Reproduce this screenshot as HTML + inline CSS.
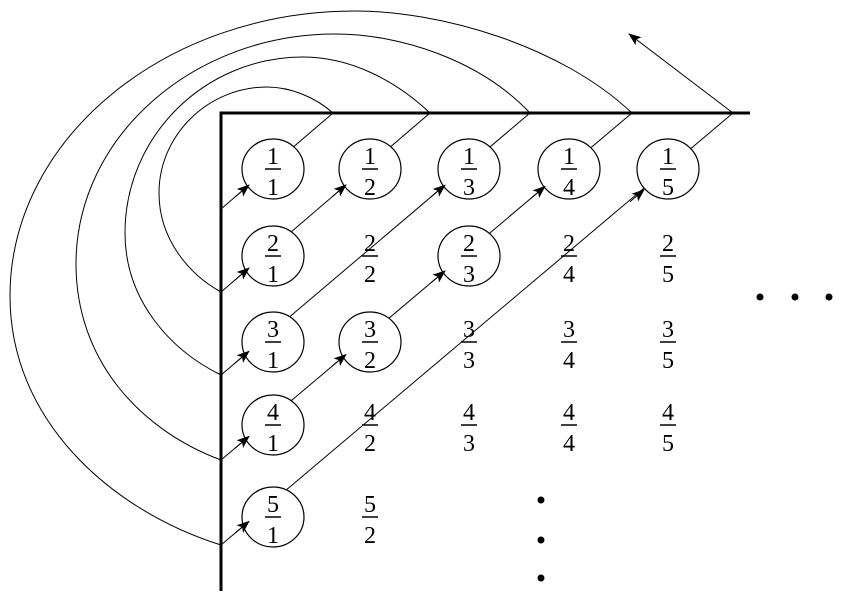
<!DOCTYPE html>
<html><head><meta charset="utf-8"><style>
html,body{margin:0;padding:0;background:#fff;}
svg{display:block;}
text{font-family:"Liberation Serif",serif;font-size:24px;fill:#000;text-anchor:middle;}
</style></head><body>
<svg width="841" height="596" viewBox="0 0 841 596" xmlns="http://www.w3.org/2000/svg">
<defs>
<marker id="ah" markerWidth="14" markerHeight="10" refX="12" refY="5" orient="auto" markerUnits="userSpaceOnUse">
<path d="M0,0 L13,5 L0,10 L3,5 Z" fill="#000"/>
</marker>
</defs>
<g fill="none" stroke="#000" stroke-width="1">
<path d="M333,113 C315,97 290,87 267,87 C208,87 159,135 159,193 C159,240 190,275 221,292"/>
<path d="M430,113 C395,80 350,57 303,57 C205,57 125,136 125,233 C125,300 170,350 221,375"/>
<path d="M530,113 C480,60 400,34 335,34 C193,34 76,137 76,264 C76,360 140,430 221,460"/>
<path d="M632,113 C560,45 440,11 355,11 C165,11 10,139 10,296 C10,420 110,510 221,545"/>
<line x1="221" y1="209" x2="333" y2="113"/>
<line x1="221" y1="292" x2="430" y2="113"/>
<line x1="221" y1="375" x2="530" y2="113"/>
<line x1="221" y1="460" x2="632" y2="113"/>
<line x1="221" y1="545" x2="733" y2="113"/>
<line x1="733" y1="113" x2="629" y2="34" marker-end="url(#ah)"/>
</g>
<path d="M221,591 L221,113 L750,113" fill="none" stroke="#000" stroke-width="3"/>
<g fill="#fff" stroke="#000" stroke-width="1.2">
<ellipse cx="273" cy="169" rx="31" ry="30"/>
<ellipse cx="370" cy="169" rx="31" ry="30"/>
<ellipse cx="469" cy="169" rx="31" ry="30"/>
<ellipse cx="569" cy="169" rx="31" ry="30"/>
<ellipse cx="668" cy="169" rx="31" ry="30"/>
<ellipse cx="273" cy="256" rx="31" ry="30"/>
<ellipse cx="469" cy="256" rx="31" ry="30"/>
<ellipse cx="273" cy="342" rx="31" ry="30"/>
<ellipse cx="370" cy="342" rx="31" ry="30"/>
<ellipse cx="273" cy="425" rx="31" ry="30"/>
<ellipse cx="273" cy="517" rx="31" ry="30"/>
</g>
<g stroke="#000" stroke-width="1" marker-end="url(#ah)">
<line x1="235" y1="197" x2="249" y2="185"/>
<line x1="235" y1="280" x2="249" y2="268"/>
<line x1="332" y1="196.9" x2="346" y2="184.9"/>
<line x1="235" y1="363.1" x2="249" y2="351.3"/>
<line x1="431" y1="196.9" x2="445" y2="185.1"/>
<line x1="235" y1="448.2" x2="249" y2="436.4"/>
<line x1="332" y1="366.3" x2="346" y2="354.5"/>
<line x1="431" y1="282.7" x2="445" y2="270.9"/>
<line x1="531" y1="198.3" x2="545" y2="186.4"/>
<line x1="235" y1="533.2" x2="249" y2="521.4"/>
<line x1="630" y1="201.7" x2="644" y2="189.8"/>
</g>
<g stroke="#000" stroke-width="1.5">
<line x1="265" y1="169" x2="281" y2="169"/><line x1="362" y1="169" x2="378" y2="169"/><line x1="461" y1="169" x2="477" y2="169"/><line x1="561" y1="169" x2="577" y2="169"/><line x1="660" y1="169" x2="676" y2="169"/>
<line x1="265" y1="256" x2="281" y2="256"/><line x1="362" y1="256" x2="378" y2="256"/><line x1="461" y1="256" x2="477" y2="256"/><line x1="561" y1="256" x2="577" y2="256"/><line x1="660" y1="256" x2="676" y2="256"/>
<line x1="265" y1="342" x2="281" y2="342"/><line x1="362" y1="342" x2="378" y2="342"/><line x1="461" y1="342" x2="477" y2="342"/><line x1="561" y1="342" x2="577" y2="342"/><line x1="660" y1="342" x2="676" y2="342"/>
<line x1="265" y1="425" x2="281" y2="425"/><line x1="362" y1="425" x2="378" y2="425"/><line x1="461" y1="425" x2="477" y2="425"/><line x1="561" y1="425" x2="577" y2="425"/><line x1="660" y1="425" x2="676" y2="425"/>
<line x1="265" y1="517" x2="281" y2="517"/><line x1="362" y1="517" x2="378" y2="517"/>
</g>
<g>
<text x="273" y="164">1</text><text x="273" y="195">1</text>
<text x="370" y="164">1</text><text x="370" y="195">2</text>
<text x="469" y="164">1</text><text x="469" y="195">3</text>
<text x="569" y="164">1</text><text x="569" y="195">4</text>
<text x="668" y="164">1</text><text x="668" y="195">5</text>
<text x="273" y="251">2</text><text x="273" y="282">1</text>
<text x="370" y="251">2</text><text x="370" y="282">2</text>
<text x="469" y="251">2</text><text x="469" y="282">3</text>
<text x="569" y="251">2</text><text x="569" y="282">4</text>
<text x="668" y="251">2</text><text x="668" y="282">5</text>
<text x="273" y="337">3</text><text x="273" y="368">1</text>
<text x="370" y="337">3</text><text x="370" y="368">2</text>
<text x="469" y="337">3</text><text x="469" y="368">3</text>
<text x="569" y="337">3</text><text x="569" y="368">4</text>
<text x="668" y="337">3</text><text x="668" y="368">5</text>
<text x="273" y="420">4</text><text x="273" y="451">1</text>
<text x="370" y="420">4</text><text x="370" y="451">2</text>
<text x="469" y="420">4</text><text x="469" y="451">3</text>
<text x="569" y="420">4</text><text x="569" y="451">4</text>
<text x="668" y="420">4</text><text x="668" y="451">5</text>
<text x="273" y="512">5</text><text x="273" y="543">1</text>
<text x="370" y="512">5</text><text x="370" y="543">2</text>
</g>
<g fill="#000">
<circle cx="760" cy="297" r="3.5"/><circle cx="795" cy="297" r="3.5"/><circle cx="829" cy="297" r="3.5"/>
<circle cx="541" cy="500" r="3.5"/><circle cx="541" cy="540" r="3.5"/><circle cx="541" cy="578" r="3.5"/>
</g>
</svg>
</body></html>
